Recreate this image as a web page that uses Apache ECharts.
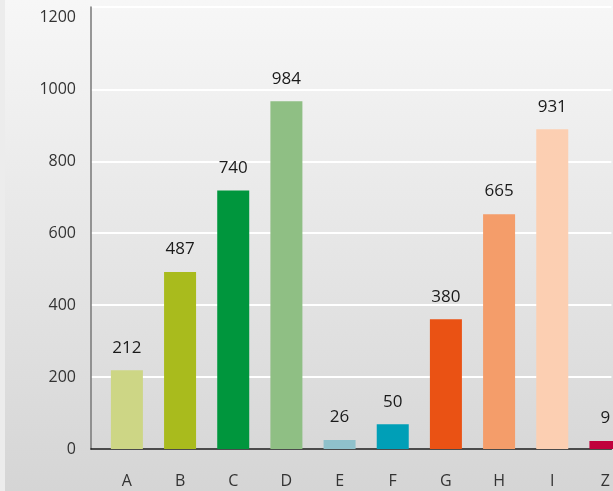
<!DOCTYPE html>
<html>
<head>
<meta charset="utf-8">
<script src="https://cdn.jsdelivr.net/npm/echarts@6/dist/echarts.min.js"></script>
<style>
  html, body { margin: 0; padding: 0; background: #ececec; }
  #chart1 { position: absolute; left: 5px; top: 0; width: 608px; height: 491px; }
</style>
</head>
<body>
<div id="chart1"></div>
<script>
  var categories = ['A', 'B', 'C', 'D', 'E', 'F', 'G', 'H', 'I', 'Z'];
  var barValues = [219, 492, 719, 967, 25, 69, 361, 653, 889, 22];
  var labelTexts = ['212', '487', '740', '984', '26', '50', '380', '665', '931', '9'];
  var barColors = ['#cdd685', '#a9bb1d', '#00963d', '#8fbf84', '#8fc1cb', '#009fb7', '#ea5214', '#f49d6a', '#fccfb2', '#c0003c'];

  // 카테고리별 막대 차트
  const drawBarChart = chartId => {
    let myChart = echarts.init(document.getElementById(chartId));
    let option;

    option = {
      backgroundColor: new echarts.graphic.LinearGradient(0, 0, 0, 1, [
        { offset: 0, color: '#f7f7f7' },
        { offset: 1, color: '#d5d5d5' }
      ]),
      grid: {
        left: 86,
        right: 0,
        top: 7,
        bottom: 42
      },
      xAxis: {
        type: 'value',
        min: -0.675,
        max: 9.1125,
        axisLine: {
          show: true,
          onZero: false,
          lineStyle: { color: '#111', width: 1.5 }
        },
        axisTick: { show: false },
        splitLine: { show: false },
        axisLabel: {
          customValues: categories.map((c, i) => i),
          formatter: v => categories[v],
          margin: 24,
          fontSize: 16,
          color: '#333',
          fontFamily: 'Open Sans'
        }
      },
      yAxis: {
        type: 'value',
        min: 0,
        max: 1229,
        interval: 200,
        axisLine: {
          show: true,
          onZero: false,
          lineStyle: { color: '#777', width: 1.5 }
        },
        axisTick: { show: false },
        axisLabel: {
          showMaxLabel: false,
          margin: 15,
          fontSize: 16,
          color: '#333',
          fontFamily: 'Open Sans',
          formatter: v => String(v)
        },
        splitLine: {
          lineStyle: {
            color: ['#fff', '#fff', '#fff', '#fff', '#fff', '#fff', 'rgba(0,0,0,0)'],
            width: 2
          }
        }
      },
      series: [
        {
          type: 'bar',
          barWidth: 32,
          label: {
            show: true,
            position: 'top',
            distance: 14,
            fontSize: 17,
            color: '#1a1a1a',
            fontFamily: 'Open Sans',
            formatter: p => labelTexts[p.dataIndex]
          },
          data: barValues.map((v, i) => ({
            value: [i, v],
            itemStyle: { color: barColors[i] }
          }))
        }
      ]
    };

    option && myChart.setOption(option);
  }

  drawBarChart('chart1');
</script>
</body>
</html>
